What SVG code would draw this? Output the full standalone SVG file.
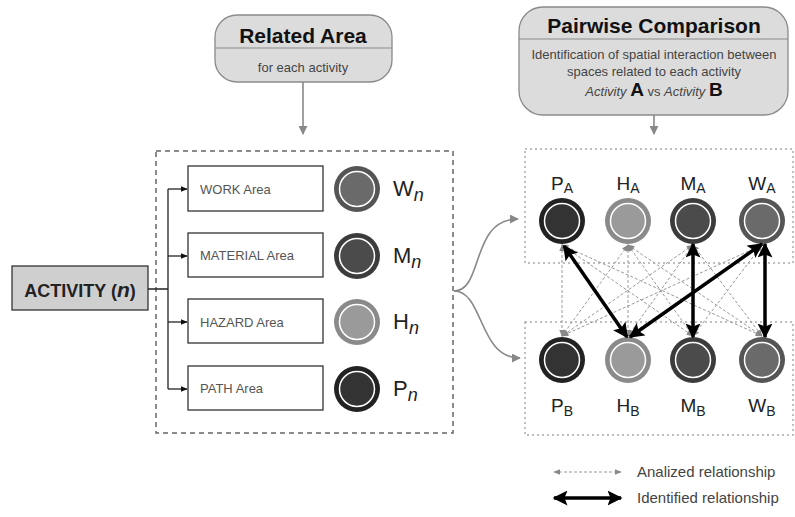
<svg xmlns="http://www.w3.org/2000/svg" width="795" height="517" viewBox="0 0 795 517">
<style>
text{font-family:"Liberation Sans",Arial,sans-serif}
.title{font-size:21px;font-weight:bold;fill:#111;text-anchor:middle}
.sub{font-size:13px;fill:#444;text-anchor:middle}
.area{fill:#fff;stroke:#333;stroke-width:1.3}
.alabel{font-size:13px;fill:#555}
.big{font-size:22px;fill:#222}
.lbl{font-size:19px;fill:#222;text-anchor:middle}
.hdr{fill:#dcdcdc;stroke:#8a8a8a;stroke-width:1.3}
.gray{stroke:#888;stroke-width:1.6;fill:none}
.ana{stroke:#999;stroke-width:1;stroke-dasharray:3,2;fill:none}
.idf{stroke:#000;stroke-width:3.5;fill:none}
.box{fill:none;stroke:#666;stroke-width:1.5;stroke-dasharray:5,4}
.dbox{fill:none;stroke:#aaa;stroke-width:1.5;stroke-dasharray:2,3}
.wr{fill:none;stroke:#fff;stroke-width:1.5}
.leg{font-size:15px;fill:#444}
</style>
<defs>
<marker id="ga" viewBox="0 0 10 10" refX="9" refY="5" markerWidth="9" markerHeight="9" markerUnits="userSpaceOnUse" orient="auto-start-reverse"><path d="M0,0 L10,5 L0,10 z" fill="#888"/></marker>
<marker id="ka" viewBox="0 0 10 10" refX="9" refY="5" markerWidth="7" markerHeight="7" markerUnits="userSpaceOnUse" orient="auto"><path d="M0,1 L10,5 L0,9 z" fill="#111"/></marker>
<marker id="sa" viewBox="0 0 10 10" refX="9" refY="5" markerWidth="7" markerHeight="7" markerUnits="userSpaceOnUse" orient="auto-start-reverse"><path d="M0,1 L10,5 L0,9 z" fill="#888"/></marker>
<marker id="ba" viewBox="0 0 10 10" refX="9" refY="5" markerWidth="15" markerHeight="15" markerUnits="userSpaceOnUse" orient="auto-start-reverse"><path d="M0,0 L10,5 L0,10 L2,5 z" fill="#000"/></marker>
</defs>

<g id="related-area">
<rect class="hdr" x="215" y="15" width="177" height="67" rx="22"/>
<line x1="215" y1="48" x2="392" y2="48" stroke="#8a8a8a" stroke-width="1.2"/>
<text class="title" x="303" y="43">Related Area</text>
<text class="sub" x="303" y="72">for each activity</text>
</g>

<g id="pairwise-comparison">
<rect class="hdr" x="519" y="7" width="269" height="108" rx="24"/>
<line x1="519" y1="39" x2="788" y2="39" stroke="#8a8a8a" stroke-width="1.2"/>
<text class="title" x="654" y="33">Pairwise Comparison</text>
<text class="sub" x="654" y="59">Identification of spatial interaction between</text>
<text class="sub" x="654" y="76">spaces related to each activity</text>
<text class="sub" x="654" y="96"><tspan font-style="italic">Activity</tspan> <tspan font-size="19" font-weight="bold" fill="#111">A</tspan> vs <tspan font-style="italic">Activity</tspan> <tspan font-size="19" font-weight="bold" fill="#111">B</tspan></text>
</g>

<g id="activity">
<rect x="12" y="266" width="136" height="44" fill="#cfcfcf" stroke="#333" stroke-width="1.3"/>
<text x="80" y="297" text-anchor="middle" font-size="18" font-weight="bold" fill="#222">ACTIVITY (<tspan font-style="italic" font-size="21">n</tspan>)</text>
</g>

<g id="related-box">
<rect class="box" x="156" y="151" width="297" height="282"/>
</g>

<g id="work-area">
<rect class="area" x="188" y="166" width="135" height="45"/>
<text class="alabel" x="200" y="194">WORK Area</text>
<circle cx="357" cy="189" r="23" fill="#555"/><circle cx="357" cy="189" r="17" fill="#6a6a6a"/><circle class="wr" cx="357" cy="189" r="17.5"/>
<text class="big" x="393" y="196">W<tspan font-style="italic" font-size="18" dy="5">n</tspan></text>
</g>
<g id="material-area">
<rect class="area" x="188" y="233" width="135" height="44"/>
<text class="alabel" x="200" y="260">MATERIAL Area</text>
<circle cx="357" cy="256" r="23" fill="#3c3c3c"/><circle cx="357" cy="256" r="17" fill="#4b4b4b"/><circle class="wr" cx="357" cy="256" r="17.5"/>
<text class="big" x="393" y="263">M<tspan font-style="italic" font-size="18" dy="5">n</tspan></text>
</g>
<g id="hazard-area">
<rect class="area" x="188" y="299" width="135" height="44"/>
<text class="alabel" x="200" y="327">HAZARD Area</text>
<circle cx="357" cy="322" r="23" fill="#8a8a8a"/><circle cx="357" cy="322" r="17" fill="#9a9a9a"/><circle class="wr" cx="357" cy="322" r="17.5"/>
<text class="big" x="393" y="329">H<tspan font-style="italic" font-size="18" dy="5">n</tspan></text>
</g>
<g id="path-area">
<rect class="area" x="188" y="366" width="135" height="44"/>
<text class="alabel" x="200" y="393">PATH Area</text>
<circle cx="357" cy="389" r="23" fill="#222"/><circle cx="357" cy="389" r="17" fill="#333"/><circle class="wr" cx="357" cy="389" r="17.5"/>
<text class="big" x="393" y="396">P<tspan font-style="italic" font-size="18" dy="5">n</tspan></text>
</g>

<g id="activity-a-box"><rect class="dbox" x="525" y="149" width="268" height="114"/></g>
<g id="activity-b-box"><rect class="dbox" x="525" y="322" width="268" height="113"/></g>

<g id="PA"><circle cx="562" cy="221" r="23" fill="#222"/><circle cx="562" cy="221" r="17" fill="#333"/><circle class="wr" cx="562" cy="221" r="17.5"/><text class="lbl" x="562" y="190">P<tspan font-size="14" dy="3">A</tspan></text></g>
<g id="HA"><circle cx="628" cy="221" r="23" fill="#8a8a8a"/><circle cx="628" cy="221" r="17" fill="#9a9a9a"/><circle class="wr" cx="628" cy="221" r="17.5"/><text class="lbl" x="628" y="190">H<tspan font-size="14" dy="3">A</tspan></text></g>
<g id="MA"><circle cx="693" cy="221" r="23" fill="#3c3c3c"/><circle cx="693" cy="221" r="17" fill="#4b4b4b"/><circle class="wr" cx="693" cy="221" r="17.5"/><text class="lbl" x="693" y="190">M<tspan font-size="14" dy="3">A</tspan></text></g>
<g id="WA"><circle cx="762" cy="221" r="23" fill="#555"/><circle cx="762" cy="221" r="17" fill="#6a6a6a"/><circle class="wr" cx="762" cy="221" r="17.5"/><text class="lbl" x="762" y="190">W<tspan font-size="14" dy="3">A</tspan></text></g>

<g id="PB"><circle cx="562" cy="360" r="23" fill="#222"/><circle cx="562" cy="360" r="17" fill="#333"/><circle class="wr" cx="562" cy="360" r="17.5"/><text class="lbl" x="562" y="412">P<tspan font-size="14" dy="4">B</tspan></text></g>
<g id="HB"><circle cx="628" cy="360" r="23" fill="#8a8a8a"/><circle cx="628" cy="360" r="17" fill="#9a9a9a"/><circle class="wr" cx="628" cy="360" r="17.5"/><text class="lbl" x="628" y="412">H<tspan font-size="14" dy="4">B</tspan></text></g>
<g id="MB"><circle cx="693" cy="360" r="23" fill="#3c3c3c"/><circle cx="693" cy="360" r="17" fill="#4b4b4b"/><circle class="wr" cx="693" cy="360" r="17.5"/><text class="lbl" x="693" y="412">M<tspan font-size="14" dy="4">B</tspan></text></g>
<g id="WB"><circle cx="762" cy="360" r="23" fill="#555"/><circle cx="762" cy="360" r="17" fill="#6a6a6a"/><circle class="wr" cx="762" cy="360" r="17.5"/><text class="lbl" x="762" y="412">W<tspan font-size="14" dy="4">B</tspan></text></g>

<g id="connectors">
<line class="gray" x1="303" y1="82" x2="303" y2="134" marker-end="url(#ga)"/>
<line class="gray" x1="654" y1="115" x2="654" y2="134" marker-end="url(#ga)"/>
<path d="M148,289 H168 M168,189 V389" stroke="#222" stroke-width="1.3" fill="none"/>
<line x1="168" y1="189" x2="187" y2="189" stroke="#222" stroke-width="1.3" marker-end="url(#ka)"/>
<line x1="168" y1="256" x2="187" y2="256" stroke="#222" stroke-width="1.3" marker-end="url(#ka)"/>
<line x1="168" y1="322" x2="187" y2="322" stroke="#222" stroke-width="1.3" marker-end="url(#ka)"/>
<line x1="168" y1="389" x2="187" y2="389" stroke="#222" stroke-width="1.3" marker-end="url(#ka)"/>
<path class="gray" d="M454,291 C484,291 470,219 518,219" marker-end="url(#ga)"/>
<path class="gray" d="M454,291 C484,291 478,358 520,358" marker-end="url(#ga)"/>
<g class="ana" marker-start="url(#sa)" marker-end="url(#sa)">
<line x1="562" y1="245" x2="562" y2="336"/><line x1="562" y1="245" x2="628" y2="336"/><line x1="562" y1="245" x2="693" y2="336"/><line x1="562" y1="245" x2="762" y2="336"/>
<line x1="628" y1="245" x2="562" y2="336"/><line x1="628" y1="245" x2="628" y2="336"/><line x1="628" y1="245" x2="693" y2="336"/><line x1="628" y1="245" x2="762" y2="336"/>
<line x1="693" y1="245" x2="562" y2="336"/><line x1="693" y1="245" x2="628" y2="336"/><line x1="693" y1="245" x2="762" y2="336"/>
<line x1="762" y1="245" x2="562" y2="336"/><line x1="762" y1="245" x2="628" y2="336"/><line x1="762" y1="245" x2="693" y2="336"/>
</g>
<g class="idf" marker-start="url(#ba)" marker-end="url(#ba)">
<line x1="564" y1="246" x2="627" y2="337"/>
<line x1="762" y1="244" x2="630" y2="337"/>
<line x1="693" y1="244" x2="693" y2="337"/>
<line x1="765" y1="244" x2="765" y2="337"/>
</g>
</g>

<g id="legend">
<line class="ana" x1="554" y1="472" x2="621" y2="472" marker-start="url(#sa)" marker-end="url(#sa)"/>
<text class="leg" x="637" y="477">Analized relationship</text>
<line class="idf" x1="554" y1="498" x2="621" y2="498" marker-start="url(#ba)" marker-end="url(#ba)"/>
<text class="leg" x="637" y="503">Identified relationship</text>
</g>
</svg>
